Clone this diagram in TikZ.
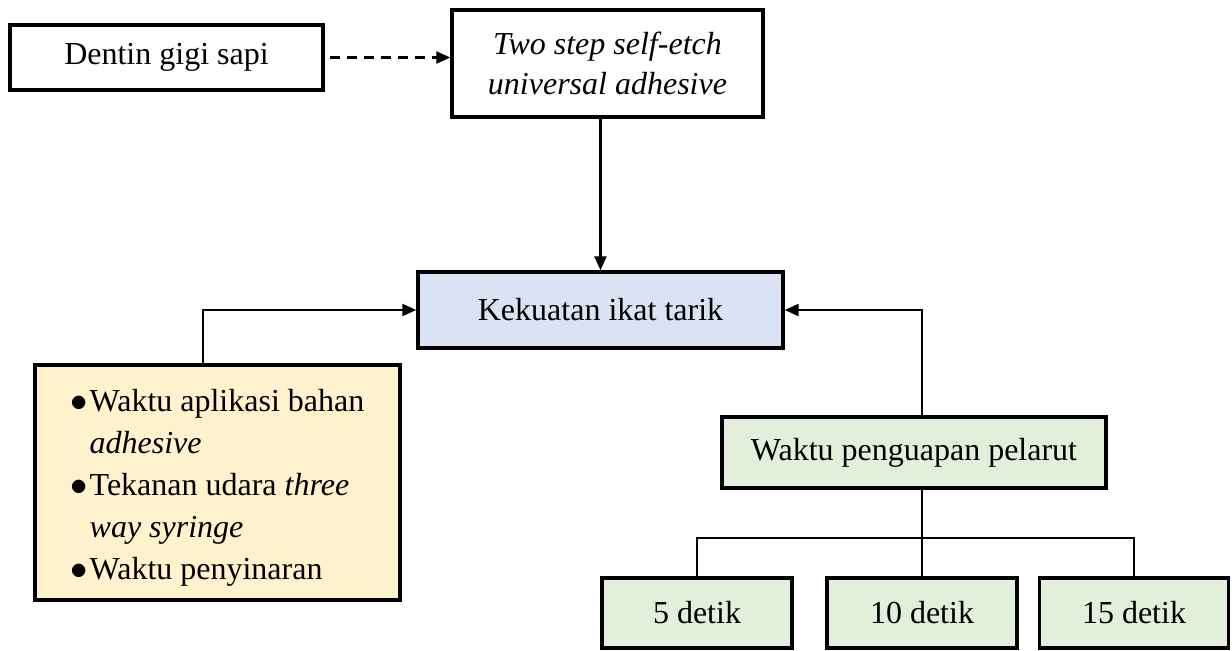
\documentclass[tikz,border=0pt]{standalone}
\usepackage{fontspec}
\setmainfont{Liberation Serif}
\usetikzlibrary{positioning,arrows.meta}
\definecolor{kekbiru}{HTML}{DAE3F3}
\definecolor{kuning}{HTML}{FFF2CC}
\definecolor{hijau}{HTML}{E2EFDA}
\newcommand{\bul}{\makebox[9.5pt][l]{$\bullet$}}
\newcommand{\ind}{\hspace*{9.5pt}}

\begin{document}
\begin{tikzpicture}[x=0.5pt, y=-0.5pt, >={Triangle[length=7pt,width=6pt]}, line width=1.2pt,
  box/.style={draw, line width=1.7pt, inner sep=0pt, align=center, font=\fontsize{16}{20}\selectfont}]
  \useasboundingbox (0,0) rectangle (1232,650);

  \node[box, minimum width=156.5pt, minimum height=32.5pt] (dentin) at (166.5,57.5) {Dentin gigi sapi};
  \node[box, minimum width=155.5pt, minimum height=53.5pt] (adh) at (607.5,63.5) {\textit{Two step self-etch}\\\textit{universal adhesive}};
  \node[box, fill=kekbiru, minimum width=182.5pt, minimum height=38pt] (kek) at (600.5,310) {Kekuatan ikat tarik};
  \node[box, fill=kuning, minimum width=182.5pt, minimum height=117.5pt, font=\fontsize{16}{21}\selectfont] (faktor) at (217.5,482.5)
    {\raisebox{-6.5pt}[0pt][0pt]{\begin{tabular}{@{}l@{}}
      \bul Waktu aplikasi bahan\\ \ind\textit{adhesive}\\ \bul Tekanan udara \textit{three}\\ \ind\textit{way syringe}\\ \bul Waktu penyinaran
    \end{tabular}}};
  \node[box, fill=hijau, minimum width=192pt, minimum height=35.5pt] (wpp) at (914,452.5) {Waktu penguapan pelarut};
  \node[box, fill=hijau, minimum width=95pt, minimum height=35pt] (d5) at (697,613) {5 detik};
  \node[box, fill=hijau, minimum width=95pt, minimum height=35pt] (d10) at (922,613) {10 detik};
  \node[box, fill=hijau, minimum width=94.5pt, minimum height=35pt] (d15) at (1134,613) {15 detik};

  \draw[->, dashed, dash pattern=on 5pt off 3.5pt, shorten <=2.5pt] (dentin.east) -- (dentin.east -| adh.west);
  \draw[->] (adh.south -| kek.north) -- (kek.north);
  \draw[->] ([xshift=-7.25pt]faktor.north) |- (kek);
  \draw[->] ([xshift=4pt]wpp.north) |- (kek);
  \draw ([xshift=4pt]wpp.south) -- ++(0,-24pt) coordinate (cabang);
  \draw (d5.north) |- (cabang) -| (d15.north);
  \draw (cabang) -- (d10.north);
\end{tikzpicture}
\end{document}
